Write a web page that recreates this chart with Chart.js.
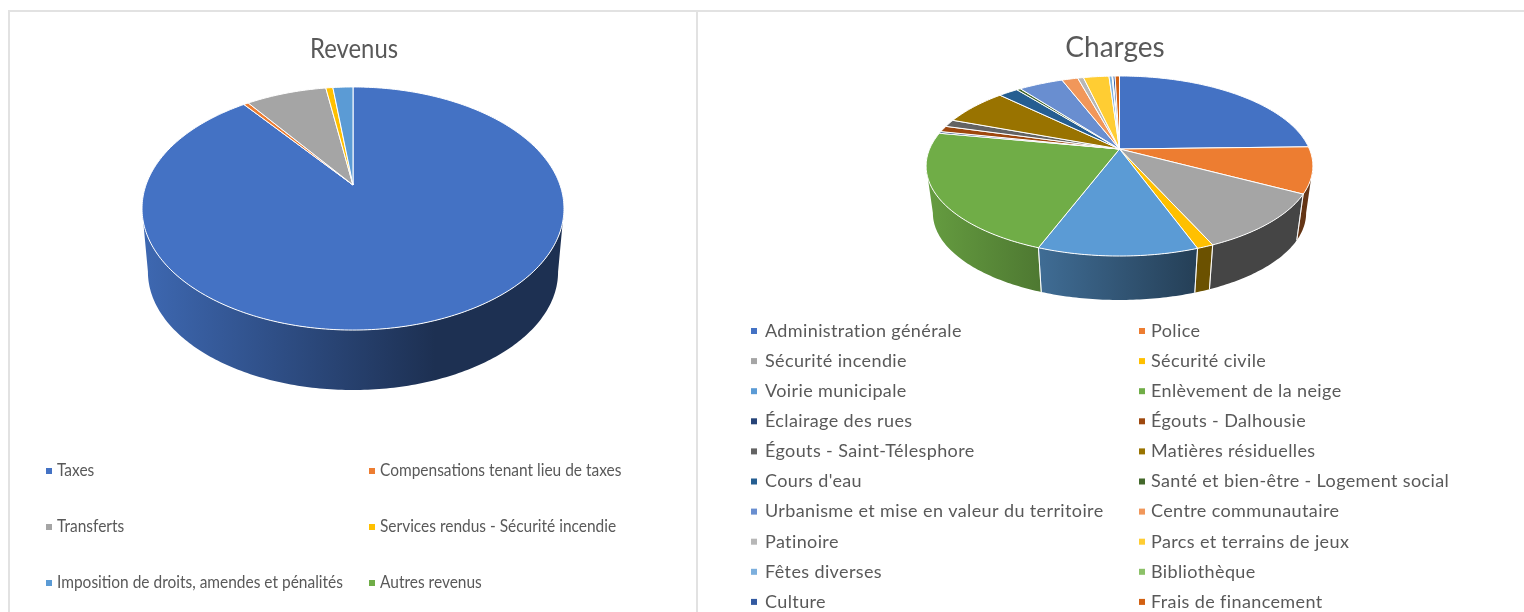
<!DOCTYPE html>
<html lang="fr">
<head>
<meta charset="utf-8">
<title>Revenus et charges</title>
<script src="https://cdn.jsdelivr.net/npm/chart.js@4/dist/chart.umd.min.js"></script>
<style>
  html, body { margin: 0; background: #fff; overflow: hidden; }
  #page { position: relative; width: 1524px; height: 612px; overflow: hidden; }
  canvas { position: absolute; top: 0; filter: blur(0.35px); }
  #revenusChart { left: 0; }
  #chargesChart { left: 706px; }
  .rule { position: absolute; background: #e2e2e2; }
</style>
</head>
<body>
<div id="page">
  <div class="rule" style="left:9px;top:10px;width:1515px;height:2px"></div>
  <div class="rule" style="left:8px;top:10px;width:2px;height:602px"></div>
  <div class="rule" style="left:696px;top:10px;width:2px;height:602px"></div>
  <canvas id="revenusChart" width="708" height="612"></canvas>
  <canvas id="chargesChart" width="818" height="612"></canvas>
</div>
<script>
// Values, in % of the total
const revenusLabels = ['Taxes', 'Compensations tenant lieu de taxes', 'Transferts',
  'Services rendus - Sécurité incendie', 'Imposition de droits, amendes et pénalités', 'Autres revenus'];
const revenusValues = [89.6, 0.45, 7.45, 0.65, 1.85, 0];
const revenusColors = ['#4472C4', '#ED7D31', '#A5A5A5', '#FFC000', '#5B9BD5', '#70AD47'];

const chargesLabels = ['Administration générale', 'Police', 'Sécurité incendie', 'Sécurité civile',
  'Voirie municipale', 'Enlèvement de la neige', 'Éclairage des rues', 'Égouts - Dalhousie',
  'Égouts - Saint-Télesphore', 'Matières résiduelles', "Cours d'eau", 'Santé et bien-être - Logement social',
  'Urbanisme et mise en valeur du territoire', 'Centre communautaire', 'Patinoire', 'Parcs et terrains de jeux',
  'Fêtes diverses', 'Bibliothèque', 'Culture', 'Frais de financement'];
const chargesValues = [24.6, 8.25, 10.5, 1.17, 11.2, 22.3, 0.33, 1.08, 1.31, 6.64,
  1.97, 0.39, 4.47, 1.61, 0.58, 2.56, 0.31, 0.08, 0.22, 0.44];
const chargesColors = ['#4472C4', '#ED7D31', '#A5A5A5', '#FFC000', '#5B9BD5', '#70AD47', '#264478', '#9E480E',
  '#636363', '#997300', '#255E91', '#43682B', '#698ED0', '#F1975A', '#B7B7B7', '#FFCD33',
  '#7CAFDD', '#8CC168', '#335AA1', '#D26012'];

// darkening of the side wall, left to right across the pie
function wallGradient(ctx, color, x0, x1) {
  const c = Chart.helpers.color(color).rgb;
  const shade = m => `rgb(${c.r * m},${c.g * m},${c.b * m})`;
  const g = ctx.createLinearGradient(x0, 0, x1, 0);
  g.addColorStop(0, shade(0.9));
  g.addColorStop(0.7, shade(0.42));
  g.addColorStop(1, shade(0.42));
  return g;
}

// Chart.js only does flat circles, so the arcs are redrawn with a perspective projection
const tiltedPie = {
  id: 'tiltedPie',
  beforeDatasetDraw(chart, args, opts) {
    const ctx = chart.ctx;
    const pt = (a, s, dy) => {
      const u = Math.cos(a), v = Math.sin(a), w = 1 - opts.k * v;
      return [opts.cx + s * opts.B * u / w, opts.cy + dy + s * opts.A * v / w];
    };
    const steps = (a0, a1) => {
      const n = Math.max(2, Math.ceil((a1 - a0) / 0.015));
      const out = [];
      for (let i = 0; i <= n; i++) out.push(a0 + (a1 - a0) * i / n);
      return out;
    };
    const arcs = args.meta.data.filter(a => a.endAngle - a.startAngle > 0);

    // side walls: between the two widest points of the rim, sin(a) = k there
    const frontStart = Math.asin(opts.k), frontEnd = Math.PI - frontStart;
    arcs.forEach(a => {
      const a0 = Math.max(a.startAngle, frontStart), a1 = Math.min(a.endAngle, frontEnd);
      if (a1 <= a0) return;
      const angles = steps(a0, a1);
      ctx.beginPath();
      angles.forEach((e, i) => {
        const p = pt(e, 1, 0);
        i ? ctx.lineTo(p[0], p[1]) : ctx.moveTo(p[0], p[1]);
      });
      [...angles].reverse().forEach(e => {
        const q = pt(e, opts.wallScale, opts.depth);
        ctx.lineTo(q[0], q[1]);
      });
      ctx.closePath();
      ctx.fillStyle = wallGradient(ctx, a.options.backgroundColor, opts.wallX0, opts.wallX1);
      ctx.fill();
    });
    // white edges between the walls
    arcs.forEach(a => {
      [a.startAngle, a.endAngle].forEach(e => {
        if (e < frontStart || e > frontEnd) return;
        const p = pt(e, 1, 0), q = pt(e, opts.wallScale, opts.depth);
        ctx.strokeStyle = 'rgba(255,255,255,0.8)';
        ctx.lineWidth = 1;
        ctx.beginPath();
        ctx.moveTo(p[0], p[1]);
        ctx.lineTo(q[0], q[1]);
        ctx.stroke();
      });
    });

    // top faces
    arcs.forEach(a => {
      ctx.beginPath();
      ctx.moveTo(opts.cx, opts.cy);
      steps(a.startAngle, a.endAngle).forEach(e => {
        const p = pt(e, 1, 0);
        ctx.lineTo(p[0], p[1]);
      });
      ctx.closePath();
      ctx.fillStyle = a.options.backgroundColor;
      ctx.fill();
      ctx.strokeStyle = '#fff';
      ctx.lineWidth = 1;
      ctx.stroke();
    });
    return false;
  }
};

// title and two column legend like the spreadsheet one
const columnLegend = {
  id: 'columnLegend',
  afterDraw(chart, args, opts) {
    const ctx = chart.ctx;
    ctx.save();
    ctx.textBaseline = 'middle';
    ctx.textAlign = 'center';
    ctx.fillStyle = '#595959';
    ctx.font = opts.titleFont;
    ctx.fillText(opts.title, opts.titleX, opts.titleY, opts.titleWidth);

    ctx.textAlign = 'left';
    chart.data.labels.forEach((label, i) => {
      const col = i % 2, row = Math.floor(i / 2);
      const y = opts.y0 + row * opts.rowStep;
      ctx.fillStyle = chart.data.datasets[0].backgroundColor[i];
      ctx.fillRect(opts.x[col], y - 3, 6, 6);
      ctx.fillStyle = '#595959';
      ctx.font = opts.font;
      ctx.letterSpacing = opts.spacing;
      ctx.save();
      ctx.translate(opts.textX[col], y);
      ctx.scale(opts.squeeze, 1);
      ctx.fillText(label, 0, 0);
      ctx.restore();
    });
    ctx.restore();
  }
};

function makePie(id, labels, values, colors, pie, legend) {
  return new Chart(document.getElementById(id), {
    type: 'pie',
    data: {
      labels: labels,
      datasets: [{ data: values, backgroundColor: colors }]
    },
    plugins: [tiltedPie, columnLegend],
    options: {
      responsive: false,
      animation: false,
      events: [],
      plugins: {
        legend: { display: false },
        tooltip: { enabled: false },
        tiltedPie: pie,
        columnLegend: legend
      }
    }
  });
}

makePie('revenusChart', revenusLabels, revenusValues, revenusColors,
  { cx: 353, cy: 185, A: 117, B: 207, k: 0.1934, wallScale: 0.972, depth: 64, wallX0: 148, wallX1: 558 },
  { title: 'Revenus', titleFont: '27px Lato', titleX: 354, titleY: 49, titleWidth: 88,
    x: [46, 369], textX: [57, 380], y0: 471, rowStep: 56, font: '17px Lato', spacing: '0px', squeeze: 0.91 });

makePie('chargesChart', chargesLabels, chargesValues, chargesColors,
  { cx: 413.5, cy: 149, A: 86.8, B: 189.9, k: 0.189, wallScale: 0.965, depth: 47.7, wallX0: 223, wallX1: 597 },
  { title: 'Charges', titleFont: '28px Lato', titleX: 409, titleY: 48, titleWidth: 100,
    x: [45, 433], textX: [59, 445], y0: 331, rowStep: 30.1, font: '18px Lato', spacing: '0.38px', squeeze: 1 });
</script>
</body>
</html>
